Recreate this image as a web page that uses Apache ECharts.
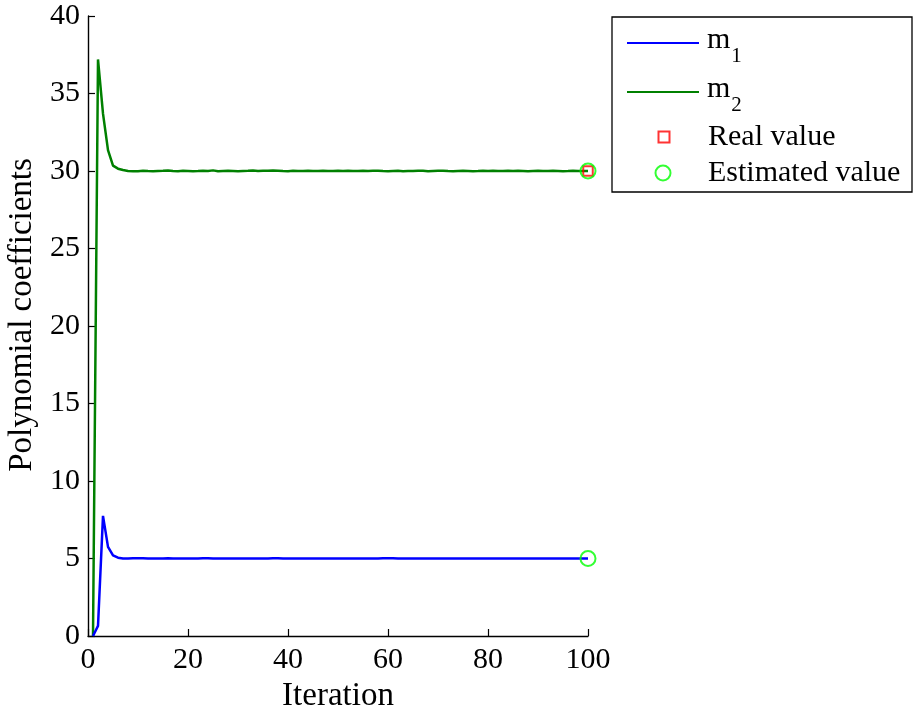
<!DOCTYPE html>
<html>
<head>
<meta charset="utf-8">
<title>Polynomial coefficients</title>
<script src="https://cdn.jsdelivr.net/npm/echarts@6/dist/echarts.min.js"></script>
<style>
  html, body { margin: 0; padding: 0; background: #fff; }
  #chart { width: 913px; height: 711px; }
</style>
</head>
<body>
<div id="chart"></div>
<script>
// Iteration index 1..100
var iterations = [];
for (var i = 1; i <= 100; i++) iterations.push(i);

// Estimated coefficient m1 per iteration
var m1Values = [
  0, 0.65, 7.75, 5.75, 5.2, 5.05, 5.0, 5.0, 5.01, 5.02,
  5.01, 5.0, 5.0, 5.0, 5.0, 5.01, 5.0, 5.0, 5.0, 5.0,
  5.0, 5.0, 5.01, 5.02, 5.0, 5.0, 5.0, 5.0, 5.0, 5.0,
  5.0, 5.0, 5.0, 5.0, 5.0, 5.0, 5.01, 5.02, 5.0, 5.0,
  5.0, 5.0, 5.0, 5.0, 5.0, 5.0, 5.0, 5.0, 5.0, 5.0,
  5.0, 5.0, 5.0, 5.0, 5.0, 5.0, 5.0, 5.0, 5.01, 5.02,
  5.01, 5.0, 5.0, 5.0, 5.0, 5.0, 5.0, 5.0, 5.0, 5.0,
  5.0, 5.0, 5.0, 5.0, 5.0, 5.0, 5.0, 5.0, 5.0, 5.0,
  5.0, 5.0, 5.0, 5.0, 5.0, 5.0, 5.0, 5.0, 5.0, 5.0,
  5.0, 5.0, 5.0, 5.0, 5.0, 5.0, 5.0, 5.0, 5.0, 5.0
];

// Estimated coefficient m2 per iteration
var m2Values = [
  0, 37.2, 33.7, 31.35, 30.35, 30.15, 30.06, 30.0, 29.98, 29.99,
  30.02, 30.0, 29.99, 30.0, 30.01, 30.03, 30.0, 29.99, 30.01, 30.0,
  29.99, 30.0, 30.02, 30.0, 30.04, 29.99, 30.0, 30.01, 30.0, 29.99,
  30.0, 30.01, 30.03, 30.0, 30.02, 30.01, 30.03, 30.02, 30.0, 29.99,
  30.01, 30.0, 30.0, 30.01, 30.0, 30.0, 30.01, 30.0, 30.0, 30.01,
  30.0, 30.01, 30.0, 30.0, 30.02, 30.0, 30.01, 30.02, 30.0, 29.99,
  30.0, 30.01, 29.99, 30.0, 30.0, 30.02, 30.01, 29.99, 30.0, 30.01,
  30.02, 30.0, 29.99, 30.0, 30.01, 30.0, 29.99, 30.0, 30.02, 30.0,
  30.01, 30.0, 30.0, 30.02, 30.0, 30.01, 30.0, 29.99, 30.0, 30.01,
  30.0, 30.0, 30.01, 30.0, 29.99, 30.0, 30.02, 30.0, 30.0, 30.0
];

// Reference (true) and final estimated coefficients
var realPoints = [[100, 30]];
var estimatedPoints = [[100, 5], [100, 30]];

var xTicks = { min: 0, max: 100, interval: 20 };
var yTicks = { min: 0, max: 40, interval: 5 };

function pairs(xs, ys) {
  return xs.map(function (x, k) { return [x, ys[k]]; });
}

var FONT = 'Liberation Serif';
var chart = echarts.init(document.getElementById('chart'), null, { renderer: 'canvas' });

// "m" with a lowered subscript index
var subRich = {
  m: { fontFamily: FONT, fontSize: 30, color: '#000', padding: [0, 0, 6, 0] },
  s: { fontFamily: FONT, fontSize: 21, color: '#000', padding: [27, 0, 0, 1] }
};

var axisCommon = {
  axisLine: { show: true, onZero: false, lineStyle: { color: '#000', width: 1.4 } },
  axisTick: { show: true, inside: true, length: 7, lineStyle: { color: '#000', width: 1.2 } },
  splitLine: { show: false },
  nameLocation: 'middle'
};

chart.setOption({
  animation: false,
  backgroundColor: '#fff',
  grid: {
    left: 88, right: 325, top: 16, bottom: 75,
    containLabel: false, outerBoundsMode: 'none'
  },
  xAxis: Object.assign({}, axisCommon, {
    type: 'value',
    min: xTicks.min, max: xTicks.max, interval: xTicks.interval,
    name: 'Iteration',
    nameGap: 41,
    nameTextStyle: { fontFamily: FONT, fontSize: 33, color: '#000' },
    axisLabel: { fontFamily: FONT, fontSize: 30, color: '#000', margin: 9 }
  }),
  yAxis: Object.assign({}, axisCommon, {
    type: 'value',
    min: yTicks.min, max: yTicks.max, interval: yTicks.interval,
    name: 'Polynomial coefficients',
    nameGap: 45,
    nameTextStyle: { fontFamily: FONT, fontSize: 33, color: '#000', padding: [0, 0, 0, 22] },
    axisLabel: { fontFamily: FONT, fontSize: 30, color: '#000', margin: 8 }
  }),
  graphic: [{
    type: 'rect',
    shape: { x: 612, y: 17, width: 300, height: 175 },
    style: { fill: '#fff', stroke: '#000', lineWidth: 1.3 },
    z: -1
  }],
  legend: [
    {
      data: [{ name: 'm1', icon: 'rect' }], left: 627, top: 25, padding: 0,
      itemWidth: 72, itemHeight: 2,
      formatter: function () { return '{m|m}{s|1}'; },
      textStyle: { rich: subRich, padding: [0, 0, 0, 3] }
    },
    {
      data: [{ name: 'm2', icon: 'rect' }], left: 627, top: 74, padding: 0,
      itemWidth: 72, itemHeight: 2,
      formatter: function () { return '{m|m}{s|2}'; },
      textStyle: { rich: subRich, padding: [0, 0, 0, 3] }
    },
    {
      data: ['Real value'], left: 657.5, top: 122, padding: 0,
      itemWidth: 11, itemHeight: 11,
      itemStyle: { color: 'transparent', borderColor: '#ff0000', borderWidth: 2 },
      textStyle: { fontFamily: FONT, fontSize: 30, color: '#000', padding: [0, 0, 0, 33.5] }
    },
    {
      data: ['Estimated value'], left: 654.5, top: 158, padding: 0,
      itemWidth: 15, itemHeight: 15,
      itemStyle: { color: 'transparent', borderColor: '#00ff00', borderWidth: 2 },
      textStyle: { fontFamily: FONT, fontSize: 30, color: '#000', padding: [0, 0, 0, 32.5] }
    }
  ],
  series: [
    {
      name: 'm1', type: 'line', data: pairs(iterations, m1Values),
      symbol: 'none', color: '#0000ff',
      lineStyle: { color: '#0000ff', width: 2.5 }, z: 3
    },
    {
      name: 'm2', type: 'line', data: pairs(iterations, m2Values),
      symbol: 'none', color: '#008000',
      lineStyle: { color: '#008000', width: 2.5 }, z: 2
    },
    {
      name: 'Real value', type: 'scatter', data: realPoints,
      symbol: 'rect', symbolSize: 9.5,
      itemStyle: { color: 'transparent', borderColor: '#ff0000', borderWidth: 2 }, z: 4
    },
    {
      name: 'Estimated value', type: 'scatter', data: estimatedPoints,
      symbol: 'circle', symbolSize: 15,
      itemStyle: { color: 'transparent', borderColor: '#00ff00', borderWidth: 2 }, z: 5
    }
  ]
});
</script>
</body>
</html>
